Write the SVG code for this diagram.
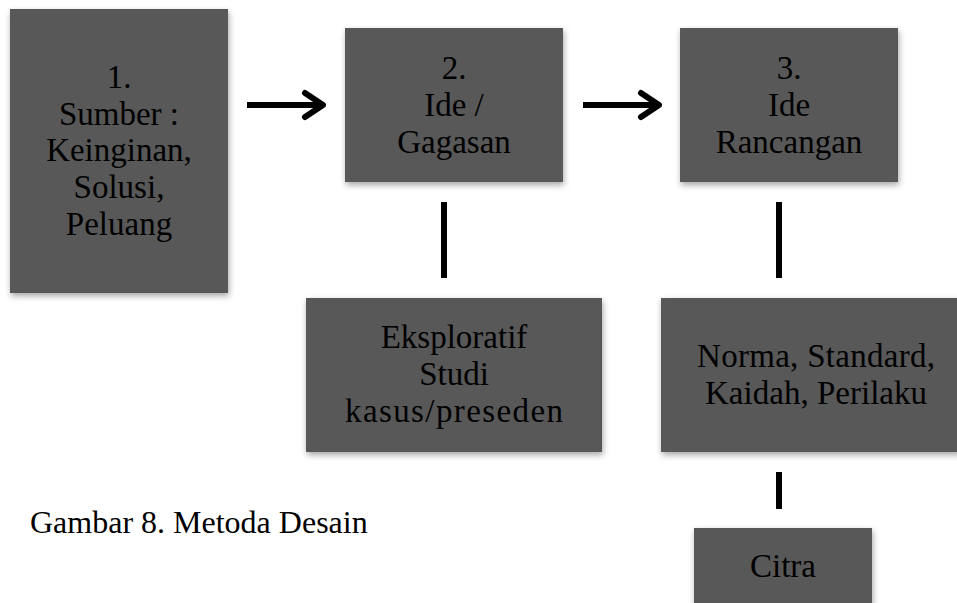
<svg xmlns="http://www.w3.org/2000/svg" width="957" height="603" viewBox="0 0 957 603">
<defs>
<filter id="sh" x="-10%" y="-10%" width="125%" height="130%">
<feDropShadow dx="1" dy="3" stdDeviation="3" flood-color="#000" flood-opacity="0.35"/>
</filter>
<style>
.box{fill:#595959;filter:url(#sh);}
.t{font-family:"Liberation Serif","Times New Roman",serif;font-size:33px;fill:#000;text-anchor:middle;}
.cap{font-family:"Liberation Serif","Times New Roman",serif;font-size:32px;fill:#000;}
.ln{stroke:#000;stroke-width:6;fill:none;}
.hd{stroke:#000;stroke-width:6;fill:none;stroke-linecap:round;stroke-linejoin:round;}
</style>
</defs>
<rect width="957" height="603" fill="#fff"/>
<g id="connectors">
<line class="ln" x1="247" y1="105" x2="322" y2="105"/>
<polyline class="hd" points="305,93 323,105 305,117"/>
<line class="ln" x1="583" y1="105" x2="658" y2="105"/>
<polyline class="hd" points="641,93 659,105 641,117"/>
<line class="ln" x1="444" y1="202" x2="444" y2="278"/>
<line class="ln" x1="779" y1="202" x2="779" y2="278"/>
<line class="ln" x1="779" y1="472" x2="779" y2="509"/>
</g>
<g id="n1">
<rect class="box" x="10" y="9" width="218" height="284"/>
<text class="t" x="119" y="88">1.</text>
<text class="t" x="119" y="125">Sumber :</text>
<text class="t" x="119" y="161">Keinginan,</text>
<text class="t" x="119" y="198">Solusi,</text>
<text class="t" x="119" y="235">Peluang</text>
</g>
<g id="n2">
<rect class="box" x="345" y="28" width="218" height="154"/>
<text class="t" x="454" y="79">2.</text>
<text class="t" x="454" y="116">Ide /</text>
<text class="t" x="454" y="153">Gagasan</text>
</g>
<g id="n3">
<rect class="box" x="680" y="28" width="218" height="154"/>
<text class="t" x="789" y="79">3.</text>
<text class="t" x="789" y="116">Ide</text>
<text class="t" x="789" y="153">Rancangan</text>
</g>
<g id="n4">
<rect class="box" x="306" y="298" width="296" height="154"/>
<text class="t" x="454" y="348">Eksploratif</text>
<text class="t" x="454" y="385">Studi</text>
<text class="t" x="454" y="422" textLength="218" lengthAdjust="spacing">kasus/preseden</text>
</g>
<g id="n5">
<rect class="box" x="661" y="298" width="300" height="154"/>
<text class="t" x="816" y="367" textLength="238" lengthAdjust="spacing">Norma, Standard,</text>
<text class="t" x="816" y="404" textLength="222" lengthAdjust="spacing">Kaidah, Perilaku</text>
</g>
<g id="n6">
<rect class="box" x="694" y="528" width="178" height="80"/>
<text class="t" x="783" y="577">Citra</text>
</g>
<text class="cap" x="30" y="533">Gambar 8. Metoda Desain</text>
</svg>
